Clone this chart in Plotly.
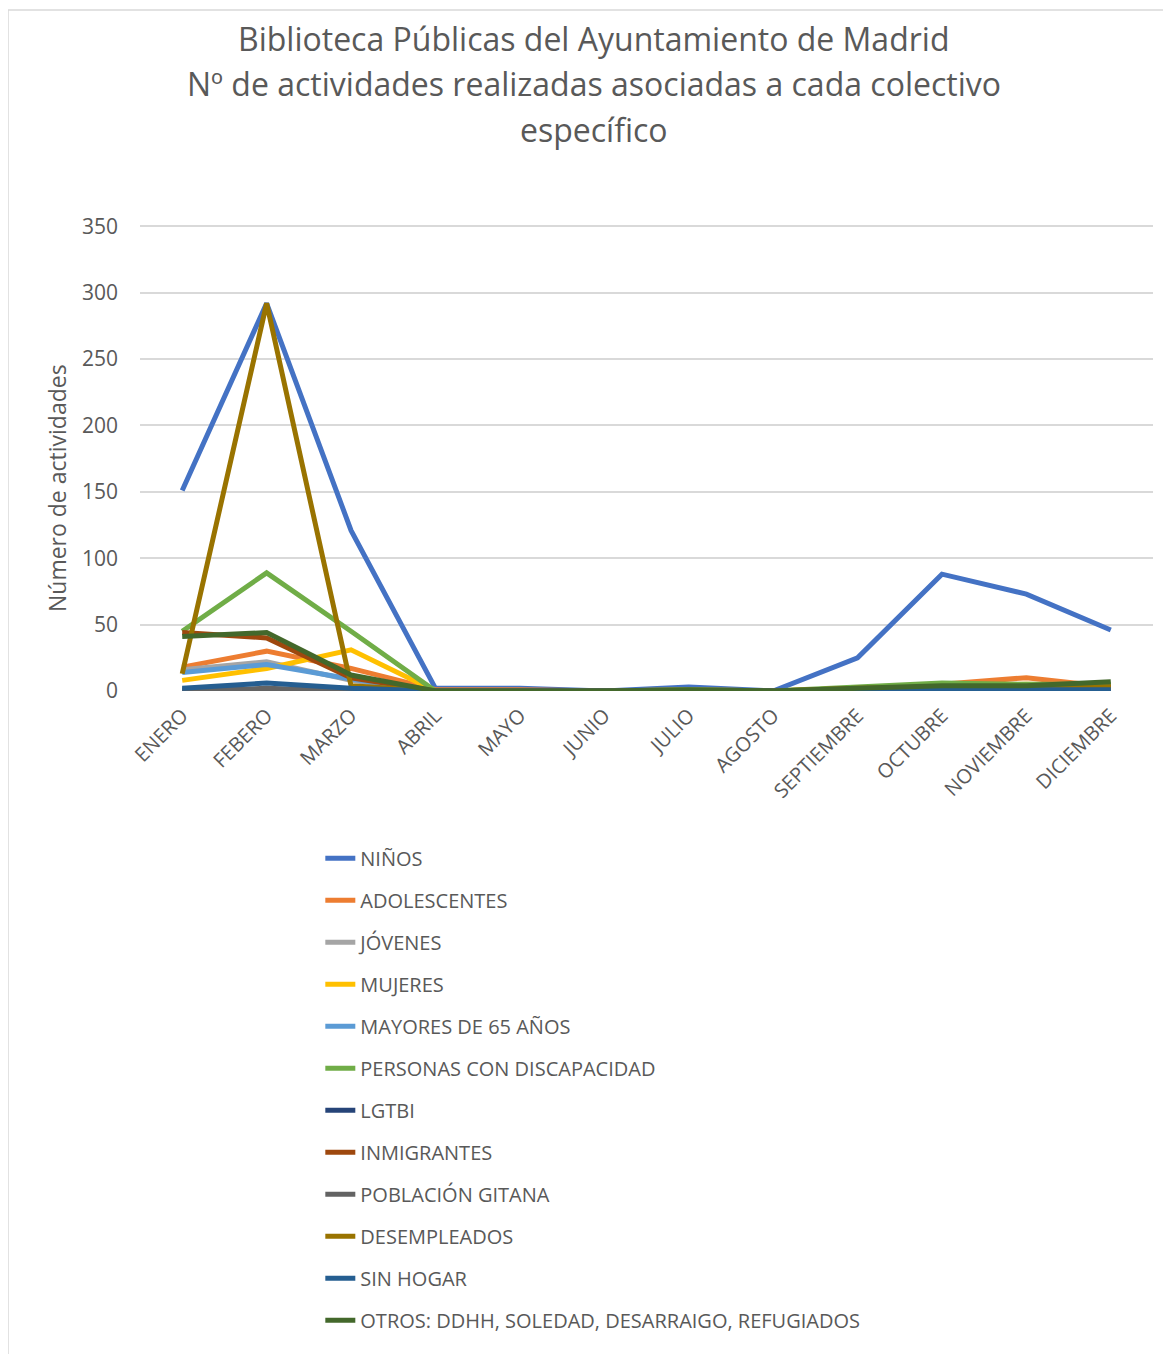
import plotly.graph_objects as go

meses = ["ENERO", "FEBERO", "MARZO", "ABRIL", "MAYO", "JUNIO", "JULIO",
         "AGOSTO", "SEPTIEMBRE", "OCTUBRE", "NOVIEMBRE", "DICIEMBRE"]

ninos        = [151, 292, 121, 2, 2, 0, 3, 0, 25, 88, 73, 46]
adolescentes = [18, 30, 17, 1, 1, 0, 1, 0, 2, 5, 10, 3]
jovenes      = [16, 22, 8, 0, 0, 0, 0, 0, 1, 2, 2, 2]
mujeres      = [8, 17, 31, 0, 0, 0, 0, 0, 2, 4, 5, 4]
mayores65    = [14, 20, 9, 0, 0, 0, 0, 0, 1, 2, 2, 2]
discapacidad = [45, 89, 45, 0, 0, 0, 1, 0, 3, 6, 5, 5]
lgtbi        = [1, 1, 0, 0, 0, 0, 0, 0, 0, 0, 0, 0]
inmigrantes  = [44, 40, 10, 0, 0, 0, 0, 0, 1, 2, 2, 3]
gitana       = [0, 2, 0, 0, 0, 0, 0, 0, 0, 0, 0, 0]
desempleados = [13, 292, 4, 0, 0, 0, 0, 0, 2, 3, 3, 3]
sin_hogar    = [2, 6, 2, 0, 0, 0, 0, 0, 0, 1, 1, 1]
otros        = [41, 44, 12, 0, 0, 0, 1, 0, 2, 4, 4, 7]

title_lines = ["Biblioteca Públicas del Ayuntamiento de Madrid",
               "Nº de actividades realizadas asociadas a cada colectivo",
               "específico"]
y_title = "Número de actividades"

series = [
    ("NIÑOS", ninos, "#4472C4"),
    ("ADOLESCENTES", adolescentes, "#ED7D31"),
    ("JÓVENES", jovenes, "#A5A5A5"),
    ("MUJERES", mujeres, "#FFC000"),
    ("MAYORES DE 65 AÑOS", mayores65, "#5B9BD5"),
    ("PERSONAS CON DISCAPACIDAD", discapacidad, "#70AD47"),
    ("LGTBI", lgtbi, "#264478"),
    ("INMIGRANTES", inmigrantes, "#9E480E"),
    ("POBLACIÓN GITANA", gitana, "#636363"),
    ("DESEMPLEADOS", desempleados, "#997300"),
    ("SIN HOGAR", sin_hogar, "#255E91"),
    ("OTROS: DDHH, SOLEDAD, DESARRAIGO, REFUGIADOS", otros, "#43682B"),
]

fig = go.Figure()
for i, (name, vals, color) in enumerate(series):
    fig.add_trace(go.Scatter(
        x=meses, y=vals, name=name, mode="lines",
        line=dict(color=color, width=5),
        legendgroup=f"g{i}",
    ))

FONT = "Open Sans"
GREY = "#595959"

title_y = [1.401, 1.3026, 1.2039]
annotations = [
    dict(text=t, xref="paper", yref="paper", x=0.448, y=yy,
         xanchor="center", yanchor="middle", showarrow=False,
         font=dict(family=FONT, size=32, color=GREY))
    for t, yy in zip(title_lines, title_y)
]
annotations.append(dict(
    text=y_title, xref="paper", yref="paper", x=-0.0819, y=0.4356,
    xanchor="center", yanchor="middle", textangle=-90, showarrow=False,
    font=dict(family=FONT, size=23, color=GREY)))

fig.update_layout(
    width=1163, height=1346,
    paper_bgcolor="white", plot_bgcolor="white",
    font=dict(family=FONT, color=GREY),
    margin=dict(l=132, r=18, t=217, b=663),
    xaxis=dict(
        type="category", range=[-0.5, 11.5],
        tickangle=-45, tickfont=dict(size=20, color=GREY),
        ticklabelstandoff=8,
        showgrid=False, showline=False, zeroline=False, ticks="",
    ),
    yaxis=dict(
        range=[0, 351], tickvals=[0, 50, 100, 150, 200, 250, 300, 350],
        tickfont=dict(size=21, color=GREY),
        gridcolor="#D9D9D9", gridwidth=1.5, zeroline=False, showline=False,
        ticklabelstandoff=21,
    ),
    showlegend=True,
    legend=dict(
        orientation="v", x=0.178, xanchor="left", y=-0.317, yanchor="top",
        font=dict(size=20, color=GREY), tracegroupgap=13,
        bgcolor="rgba(0,0,0,0)",
    ),
    annotations=annotations,
    shapes=[
        dict(type="line", xref="paper", yref="paper",
             x0=-0.1303, x1=1.03, y0=1.4614, y1=1.4614,
             line=dict(color="#D9D9D9", width=1.5)),
        dict(type="line", xref="paper", yref="paper",
             x0=-0.1303, x1=-0.1303, y0=-1.5, y1=1.4614,
             line=dict(color="#D9D9D9", width=1.5)),
    ],
)

fig.write_html("out.html")
